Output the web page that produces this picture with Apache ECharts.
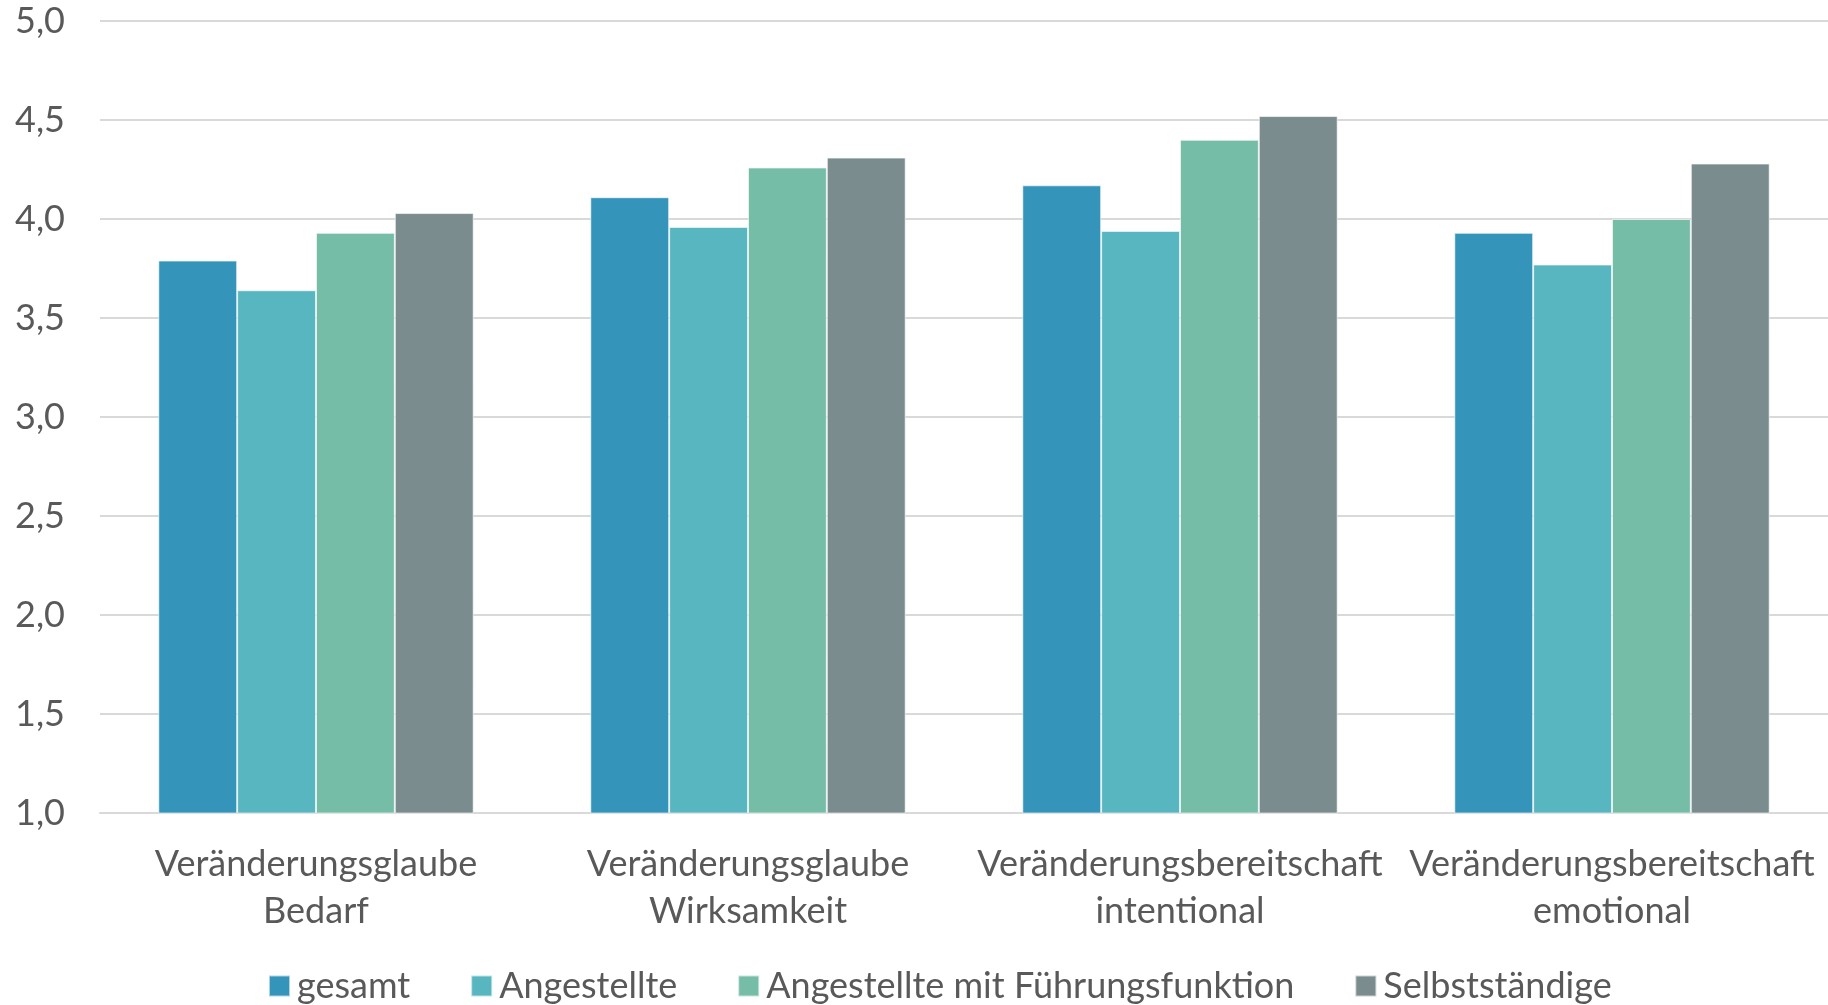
<!DOCTYPE html>
<html>
<head>
<meta charset="utf-8">
<script src="https://cdn.jsdelivr.net/npm/echarts@6/dist/echarts.min.js"></script>
<style>
  html, body { margin: 0; padding: 0; background: #fff; }
  #chart { width: 1828px; height: 1005px; }
</style>
</head>
<body>
<div id="chart"></div>
<script>
// Kategorien (Skalen) und Gruppenmittelwerte
const categories = [
  'Veränderungsglaube\nBedarf',
  'Veränderungsglaube\nWirksamkeit',
  'Veränderungsbereitschaft\nintentional',
  'Veränderungsbereitschaft\nemotional'
];
const seriesNames = ['gesamt', 'Angestellte', 'Angestellte mit Führungsfunktion', 'Selbstständige'];
const gesamt = [3.79, 4.11, 4.17, 3.93];
const angestellte = [3.64, 3.96, 3.94, 3.77];
const fuehrung = [3.93, 4.26, 4.40, 4.00];
const selbststaendige = [4.03, 4.31, 4.52, 4.28];
const yTicks = [1.0, 1.5, 2.0, 2.5, 3.0, 3.5, 4.0, 4.5, 5.0];

const colors = ['#3494BA', '#58B6C0', '#75BDA7', '#7A8C8E'];
const values = [gesamt, angestellte, fuehrung, selbststaendige];
const FONT = 'Lato';

const chart = echarts.init(document.getElementById('chart'), null, { renderer: 'canvas' });

chart.setOption({
  backgroundColor: '#ffffff',
  animation: false,
  color: colors,
  textStyle: { fontFamily: FONT, color: '#595959' },
  grid: { left: 100, width: 1733, top: 21, bottom: 192, containLabel: false },
  legend: {
    left: 268,
    top: 968,
    padding: 0,
    itemWidth: 21,
    itemHeight: 21,
    itemGap: 60,
    icon: 'rect',
    textStyle: { fontFamily: FONT, fontSize: 36, color: '#595959', padding: [0, 0, 0, 2] },
    data: seriesNames
  },
  xAxis: {
    type: 'category',
    data: categories,
    axisLine: { show: true, lineStyle: { color: '#D9D9D9', width: 2 } },
    axisTick: { show: false },
    axisLabel: {
      fontFamily: FONT,
      fontSize: 36,
      color: '#595959',
      lineHeight: 47,
      margin: 28,
      interval: 0
    }
  },
  yAxis: {
    type: 'value',
    min: yTicks[0],
    max: yTicks[yTicks.length - 1],
    interval: 0.5,
    axisLine: { show: false },
    axisTick: { show: false },
    splitLine: { lineStyle: { color: '#D9D9D9', width: 2 } },
    axisLabel: {
      fontFamily: FONT,
      fontSize: 36,
      color: '#595959',
      margin: 35,
      formatter: v => v.toFixed(1).replace('.', ',')
    }
  },
  series: seriesNames.map((name, i) => ({
    name: name,
    type: 'bar',
    data: values[i],
    barGap: '0%',
    barCategoryGap: '27%',
    itemStyle: { color: colors[i], borderColor: 'rgba(255,255,255,0.6)', borderWidth: 1 }
  }))
});
</script>
</body>
</html>
